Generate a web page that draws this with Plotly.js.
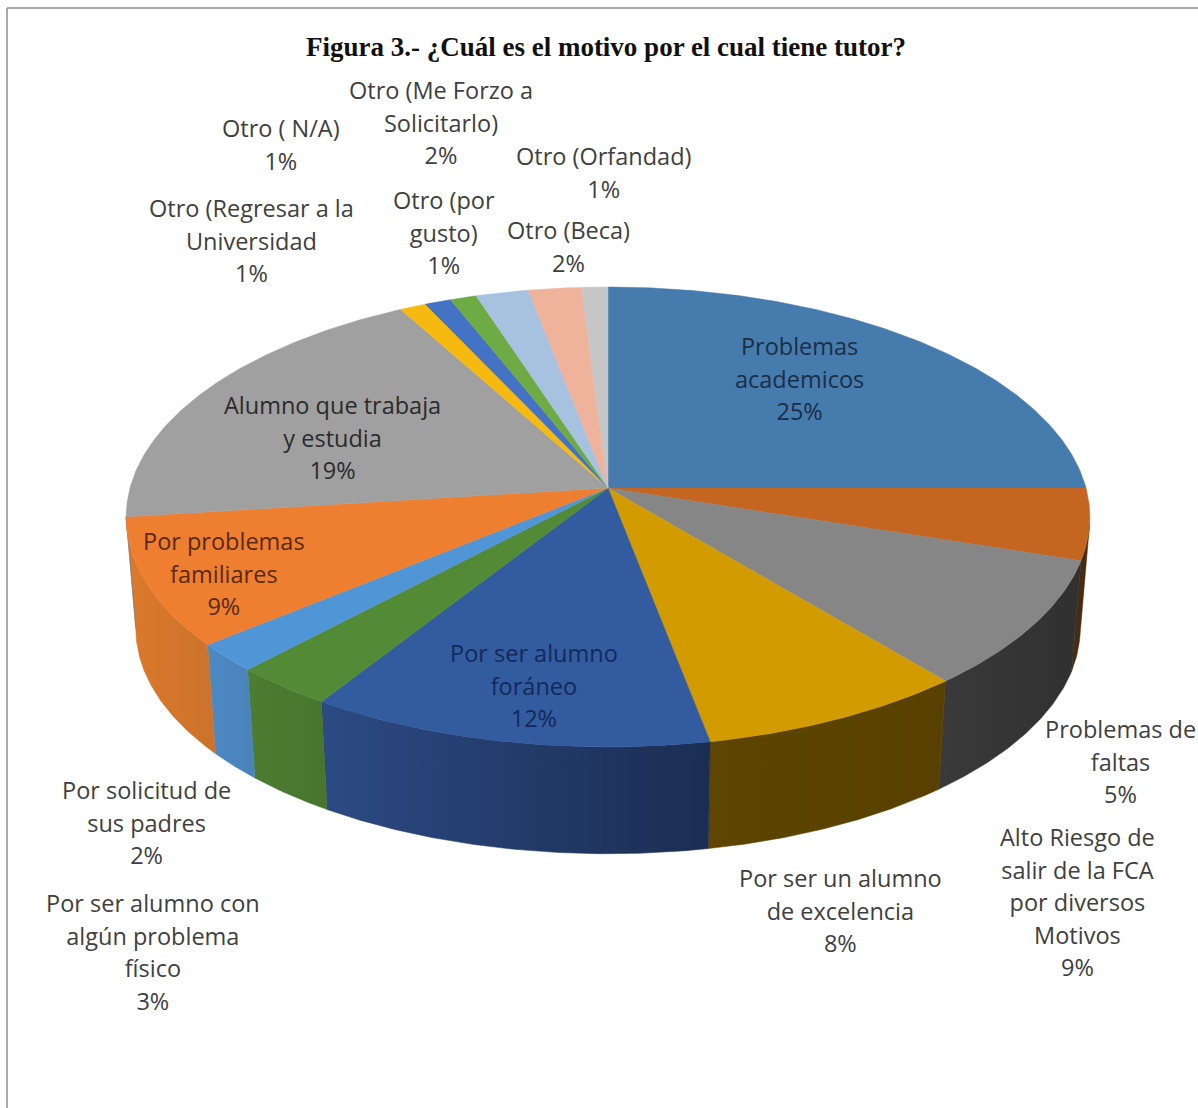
<!DOCTYPE html>
<html>
<head>
<meta charset="utf-8">
<script src="https://cdn.plot.ly/plotly-3.0.1.min.js"></script>
<style>html,body{margin:0;padding:0;background:#fff}</style>
</head>
<body>
<div id="chart" style="width:1198px;height:1108px"></div>
<script>
// Motivos por los que el alumno tiene tutor (porcentaje de respuestas)
const categories = [
  "Problemas<br>academicos",
  "Problemas de<br>faltas",
  "Alto Riesgo de<br>salir de la FCA<br>por diversos<br>Motivos",
  "Por ser un alumno<br>de excelencia",
  "Por ser alumno<br>foráneo",
  "Por ser alumno con<br>algún problema<br>físico",
  "Por solicitud de<br>sus padres",
  "Por problemas<br>familiares",
  "Alumno que trabaja<br>y estudia",
  "Otro (Regresar a la<br>Universidad",
  "Otro ( N/A)",
  "Otro (por<br>gusto)",
  "Otro (Me Forzo a<br>Solicitarlo)",
  "Otro (Beca)",
  "Otro (Orfandad)"
];
const values = [25, 5, 9, 8, 12, 3, 2, 9, 19, 1, 1, 1, 2, 2, 1];

// Colores de cada sector: cara superior y lateral (izquierda y derecha del degradado)
const topColors = ["#457BAD", "#C46522", "#868686", "#D29B00", "#335B9F", "#528A35", "#5096D6", "#EF7F30",
                   "#A0A0A0", "#F6B90F", "#4472C4", "#6EAB45", "#A7C1E1", "#EFB39B", "#C6C6C6"];
const sideLeft  = ["#2C4E6E", "#4A2A10", "#3A3A3A", "#5E4500", "#2C4A84", "#4C7D32", "#4C8AC4", "#DC792C",
                   "#808080", "#9A7508", "#2A477C", "#466C2C", "#67788E", "#966F60", "#7C7C7C"];
const sideRight = ["#2C4E6E", "#4A2A10", "#303030", "#584000", "#1B2D52", "#47752E", "#4A82B8", "#CC722B",
                   "#808080", "#9A7508", "#2A477C", "#466C2C", "#67788E", "#966F60", "#7C7C7C"];
const labelColors = ["#1C2E45", "#404040", "#404040", "#404040", "#14295A", "#404040", "#404040", "#5A2A0C",
                     "#2B2B2B", "#404040", "#404040", "#404040", "#404040", "#404040", "#404040"];

// Centro de cada etiqueta en las unidades de los ejes
const labelX = [799, 1120, 1077, 840, 534, 153, 146, 224, 332, 251, 281, 444, 441, 568, 603];
const labelY = [378, 761, 902, 910, 685, 952, 822, 573, 437, 240, 144, 232, 122, 246, 172];

// Proyección en perspectiva del disco del pastel
const pie = {cx: 608, cy: 488, rx: 478, ry: 226.3, persp: 0.126, depth: 112, shrink: 0.98,
             wallFrom: 99, wallTo: 263};

function project(deg, r, lower) {
  const a = deg * Math.PI / 180;
  const u = r * Math.sin(a), v = r * Math.cos(a);
  const w = 1 + pie.persp * v;
  const dx = pie.rx * u / w, dy = -pie.ry * v / w;
  return lower
    ? [pie.cx + pie.shrink * dx, pie.cy + pie.depth + pie.shrink * dy]
    : [pie.cx + dx, pie.cy + dy];
}

function arc(a0, a1, lower) {
  const n = Math.max(2, Math.ceil(Math.abs(a1 - a0) / 0.5));
  const pts = [];
  for (let i = 0; i <= n; i++) pts.push(project(a0 + (a1 - a0) * i / n, 1, lower));
  return pts;
}

const total = values.reduce((s, d) => s + d, 0);
const angles = [0];
values.forEach(d => angles.push(angles[angles.length - 1] + d / total * 360));

const sideTraces = [], topTraces = [];
values.forEach((d, i) => {
  const a0 = angles[i], a1 = angles[i + 1];
  // La pared solo se ve en la mitad delantera del disco
  const s0 = Math.max(a0, pie.wallFrom), s1 = Math.min(a1, pie.wallTo);
  if (s1 > s0) {
    const pts = arc(s0, s1, false).concat(arc(s1, s0, true));
    pts.push(pts[0]);
    sideTraces.push({
      type: "scatter", mode: "lines", hoverinfo: "skip", showlegend: false,
      x: pts.map(p => p[0]), y: pts.map(p => p[1]),
      line: {width: 0.5, color: sideRight[i]},
      fill: "toself",
      fillcolor: sideLeft[i],
      fillgradient: {type: "horizontal", colorscale: [[0, sideLeft[i]], [1, sideRight[i]]]}
    });
  }
  const pts = [[pie.cx, pie.cy]].concat(arc(a0, a1, false));
  pts.push([pie.cx, pie.cy]);
  topTraces.push({
    type: "scatter", mode: "lines", hoverinfo: "skip", showlegend: false,
    x: pts.map(p => p[0]), y: pts.map(p => p[1]),
    line: {width: 0.5, color: topColors[i]},
    fill: "toself", fillcolor: topColors[i]
  });
});

// El tamaño exterior fija el interlineado y el interior el cuerpo del texto
const sized = line => "<span style=\"font-size:23.5px\">" + line + "</span>";
const annotations = categories.map((c, i) => ({
  xref: "x", yref: "y", x: labelX[i], y: labelY[i],
  text: (c + "<br>" + values[i] + "%").split("<br>").map(sized).join("<br>"),
  showarrow: false, align: "center", xanchor: "center", yanchor: "middle",
  font: {family: "'Open Sans', sans-serif", size: 25, color: labelColors[i]}
}));

const layout = {
  width: 1198, height: 1108,
  margin: {l: 0, r: 0, t: 0, b: 0},
  paper_bgcolor: "#fff", plot_bgcolor: "#fff",
  showlegend: false,
  title: {
    text: "<b>Figura 3.- ¿Cuál es el motivo por el cual tiene tutor?</b>",
    x: 606 / 1198, xanchor: "center", y: 1 - 47 / 1108, yanchor: "middle",
    font: {family: "'Liberation Serif', serif", size: 27, color: "#111"}
  },
  xaxis: {range: [0, 1198], visible: false, fixedrange: true},
  yaxis: {range: [1108, 0], visible: false, fixedrange: true},
  annotations: annotations,
  shapes: [
    {type: "line", xref: "x", yref: "y", x0: 7, x1: 7, y0: 8, y1: 1108, line: {color: "#8E8E8E", width: 1.5}},
    {type: "line", xref: "x", yref: "y", x0: 7, x1: 1198, y0: 8, y1: 8, line: {color: "#8E8E8E", width: 1.5}}
  ]
};

Plotly.newPlot("chart", sideTraces.concat(topTraces), layout, {displayModeBar: false, responsive: false});
</script>
</body>
</html>
